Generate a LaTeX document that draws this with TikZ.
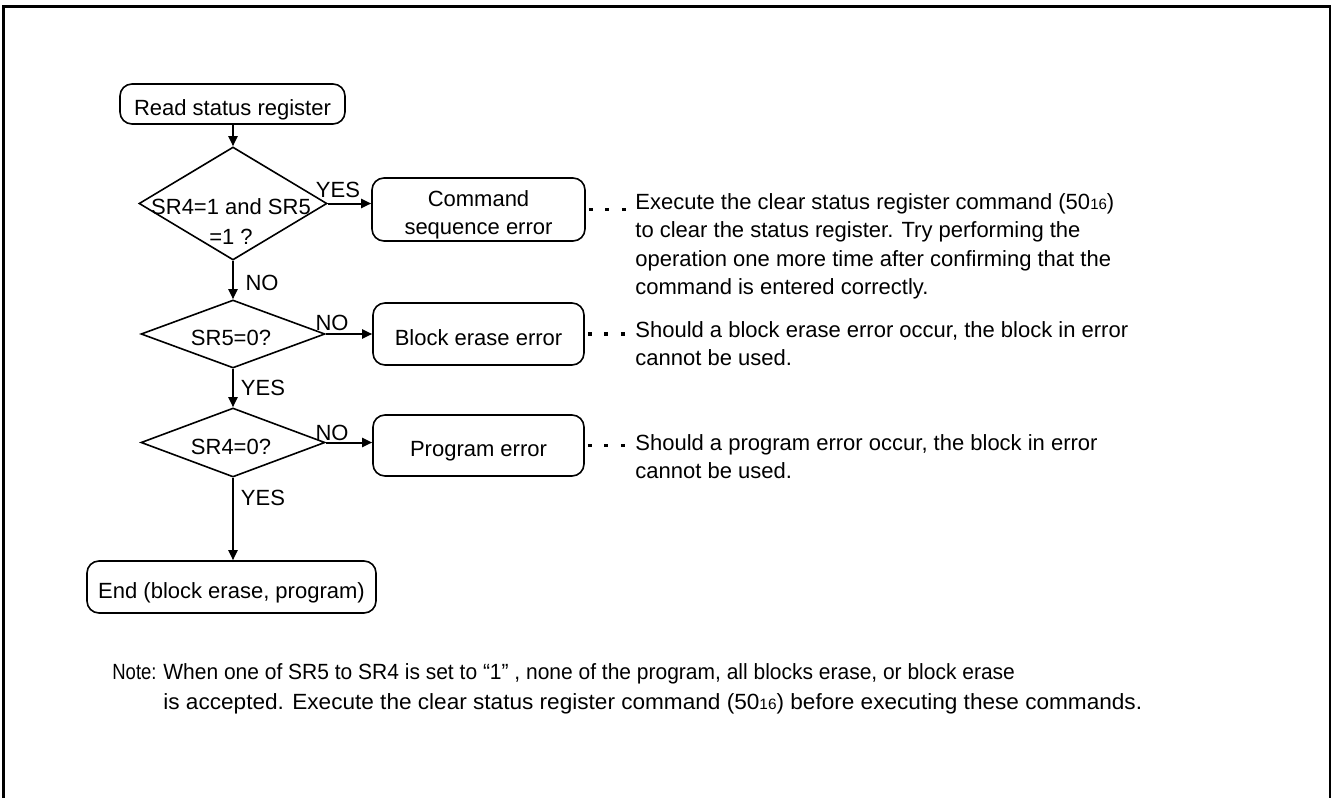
\documentclass[tikz,border=0pt]{standalone}
\usepackage{fontspec}
\setmainfont{Liberation Sans}
\usetikzlibrary{shapes.geometric,arrows.meta}
\begin{document}
\begin{tikzpicture}[x=0.5pt,y=-0.5pt,
  font=\fontsize{11}{14.25}\selectfont,
  every node/.style={inner sep=0pt},
  proc/.style={draw,rounded corners=6pt,line width=0.8pt,text height=11pt,text depth=0pt},
  dec/.style={draw,diamond,line width=0.8pt},
  arr/.style={line width=1pt,-{Triangle[length=5pt,width=4.5pt]}},
  dots/.style={line width=1.8pt,dash pattern=on 2pt off 6.25pt,dash phase=6.75pt},
  note/.style={anchor=north west,align=left}]
\useasboundingbox (0,0) rectangle (1335,798);
\draw[line width=1.2pt] (3.5,798) -- (3.5,6.5) -- (1330,6.5) -- (1330,798);

% process boxes
\node[proc,minimum width=112.5pt,minimum height=20pt] (rsr) at (232.5,104) {Read status register};
\node[proc,minimum width=106.5pt,minimum height=31.5pt] (cmd) at (478.5,209.5) {};
\node[align=center] (cmdt) at (478.5,215) {Command\\sequence error};
\node[proc,minimum width=105.5pt,minimum height=31pt] (blk) at (478.5,334) {Block erase error};
\node[proc,minimum width=105.5pt,minimum height=30.5pt] (prg) at (478.5,445.5) {Program error};
\node[proc,minimum width=144.5pt,minimum height=26pt] (end) at (231.5,587) {End (block erase, program)};

% decisions
\node[dec,minimum width=94pt,minimum height=56.5pt] (d1) at (233,203.5) {};
\node[dec,minimum width=92pt,minimum height=34pt] (d2) at (233,334) {};
\node[dec,minimum width=92pt,minimum height=34.5pt] (d3) at (233,442.5) {};
\node[align=center,font=\fontsize{11}{15}\selectfont] (d1t) at (231,222) {SR4=1 and SR5\\=1 ?};
\node (d2t) at (231,338) {SR5=0?};
\node (d3t) at (231,447) {SR4=0?};

% connectors
\draw[arr] (rsr.south -| d1.north) -- (d1.north);
\draw[arr] (d1.south) -- (d2.north);
\draw[arr] (d2.south) -- (d3.north);
\draw[arr] (d3.south) -- (d3.south |- end.north);
\draw[arr] (d1.east) -- (d1.east -| cmd.west);
\draw[arr] (d2.east) -- (d2.east -| blk.west);
\draw[arr] (d3.east) -- (d3.east -| prg.west);

% branch labels
\node (yes1) at (338,190) {YES};
\node (no1) at (262,283) {NO};
\node (no2) at (332,323) {NO};
\node (yes2) at (263,388) {YES};
\node (no3) at (332,433) {NO};
\node (yes3) at (263,498) {YES};

% comments
\coordinate (c1) at (627,209.5);
\coordinate (c2) at (627,334);
\coordinate (c3) at (627,445.5);
\draw[dots] (cmd.east) -- (c1);
\draw[dots] (blk.east) -- (c2);
\draw[dots] (prg.east) -- (c3);
\node[note] (n1) at (635,189) {\strut Execute the clear status register command (50{\fontsize{7.5}{9}\selectfont 16})\\to clear the status register. Try performing the\\operation one more time after confirming that the\\command is entered correctly.};
\node[note] (n2) at (635,317) {\strut Should a block erase error occur, the block in error\\cannot be used.};
\node[note] (n3) at (635,430) {\strut Should a program error occur, the block in error\\cannot be used.};

% note
\node[anchor=base west] (nl) at (112,679) {\scalebox{0.84}[1]{Note:}};
\node[anchor=base west] (nt1) at (163,679) {\scalebox{0.954}[1]{When one of SR5 to SR4 is set to \textquotedblleft1\textquotedblright\ , none of the program, all blocks erase, or block erase}};
\node[anchor=base west] (nt2) at (163,709) {\scalebox{1.027}[1]{is accepted. Execute the clear status register command (50{\fontsize{7.5}{9}\selectfont 16}) before executing these commands.}};
\end{tikzpicture}
\end{document}
